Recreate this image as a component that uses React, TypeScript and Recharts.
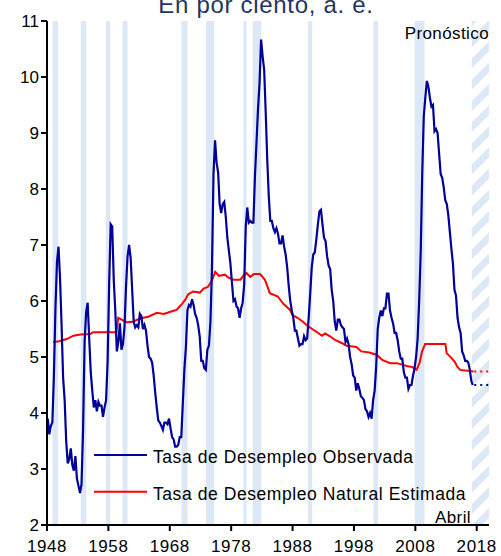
import { LineChart, Line, XAxis, YAxis, ReferenceArea } from "recharts";

const FONT = '"Liberation Sans", Arial, sans-serif';
const BLUE = "#000099";
const RED = "#ff0000";
const BAND = "#dce8f5";

// Observed unemployment rate, quarterly averages starting 1948 Q1
const observedStartYear = 1948;
const observedQuarterly = [
  3.9, 3.62, 3.77, 3.83, // 1948
  4.67, 5.87, 6.7, 6.97, // 1949
  6.4, 5.57, 4.63, 4.23, // 1950
  3.5, 3.1, 3.17, 3.37, // 1951
  3.07, 2.97, 3.23, 2.83, // 1952
  2.7, 2.57, 2.73, 3.7, // 1953
  5.27, 5.8, 5.97, 5.33, // 1954
  4.73, 4.4, 4.1, 4.23, // 1955
  4.03, 4.2, 4.13, 4.13, // 1956
  3.93, 4.1, 4.23, 4.93, // 1957
  6.3, 7.37, 7.33, 6.37, // 1958
  5.83, 5.1, 5.27, 5.6, // 1959
  5.13, 5.23, 5.53, 6.27, // 1960
  6.8, 7.0, 6.77, 6.2, // 1961
  5.63, 5.53, 5.57, 5.53, // 1962
  5.77, 5.73, 5.5, 5.57, // 1963
  5.47, 5.2, 5.0, 4.97, // 1964
  4.9, 4.67, 4.37, 4.1, // 1965
  3.87, 3.83, 3.77, 3.7, // 1966
  3.83, 3.83, 3.8, 3.9, // 1967
  3.73, 3.57, 3.53, 3.4, // 1968
  3.4, 3.43, 3.57, 3.57, // 1969
  4.17, 4.77, 5.17, 5.83, // 1970
  5.93, 5.9, 6.03, 5.93, // 1971
  5.77, 5.7, 5.57, 5.37, // 1972
  4.93, 4.93, 4.8, 4.77, // 1973
  5.13, 5.2, 5.63, 6.6, // 1974
  8.27, 8.87, 8.47, 8.3, // 1975
  7.73, 7.57, 7.73, 7.77, // 1976
  7.5, 7.13, 6.9, 6.67, // 1977
  6.33, 6.0, 6.03, 5.9, // 1978
  5.87, 5.7, 5.87, 5.97, // 1979
  6.3, 7.33, 7.67, 7.4, // 1980
  7.43, 7.4, 7.4, 8.23, // 1981
  8.83, 9.43, 9.9, 10.67, // 1982
  10.37, 10.13, 9.37, 8.53, // 1983
  7.87, 7.43, 7.43, 7.3, // 1984
  7.23, 7.3, 7.2, 7.03, // 1985
  7.03, 7.17, 6.97, 6.83, // 1986
  6.6, 6.27, 6.0, 5.83, // 1987
  5.7, 5.47, 5.47, 5.33, // 1988
  5.2, 5.23, 5.23, 5.37, // 1989
  5.3, 5.33, 5.7, 6.13, // 1990
  6.6, 6.83, 6.87, 7.1, // 1991
  7.37, 7.6, 7.63, 7.37, // 1992
  7.13, 7.07, 6.8, 6.63, // 1993
  6.57, 6.2, 6.0, 5.63, // 1994
  5.47, 5.67, 5.67, 5.57, // 1995
  5.53, 5.5, 5.27, 5.33, // 1996
  5.23, 5.0, 4.87, 4.67, // 1997
  4.63, 4.4, 4.53, 4.43, // 1998
  4.3, 4.27, 4.23, 4.07, // 1999
  4.03, 3.93, 4.0, 3.9, // 2000
  4.23, 4.4, 4.83, 5.5, // 2001
  5.7, 5.83, 5.73, 5.87, // 2002
  5.87, 6.13, 6.13, 5.83, // 2003
  5.7, 5.6, 5.43, 5.43, // 2004
  5.3, 5.1, 4.97, 4.97, // 2005
  4.73, 4.63, 4.63, 4.43, // 2006
  4.5, 4.5, 4.67, 4.8, // 2007
  5.0, 5.33, 6.0, 6.87, // 2008
  8.27, 9.3, 9.63, 9.93, // 2009
  9.83, 9.63, 9.47, 9.5, // 2010
  9.03, 9.07, 9.0, 8.63, // 2011
  8.27, 8.2, 8.03, 7.8, // 2012
  7.73, 7.53, 7.23, 6.93, // 2013
  6.67, 6.2, 6.1, 5.7, // 2014
  5.53, 5.43, 5.1, 5.03, // 2015
  4.93, 4.93, 4.9, 4.77, // 2016
  4.57, // 2017 Q1
];
// April 2017, last observation
const observedTailYears = [2017.35];
const observedTailValues = [4.5];

// Estimated natural rate
const naturalYears = [
  1949.0, 1950.0, 1951.2, 1952.3, 1953.5, 1955.0, 1955.5, 1959.3, 1959.6, 1960.3,
  1961.0, 1962.0, 1962.8, 1963.7, 1964.5, 1965.9, 1967.0, 1968.5, 1969.1, 1970.0,
  1970.5, 1971.0, 1971.8, 1972.9, 1973.5, 1974.2, 1974.8, 1975.4, 1976.0, 1977.0,
  1977.5, 1978.3, 1979.5, 1980.0, 1980.5, 1981.1, 1981.7, 1982.7, 1983.5, 1984.3,
  1985.6, 1986.5, 1987.6, 1988.0, 1988.8, 1989.7, 1990.5, 1991.2, 1991.9, 1992.8,
  1993.3, 1994.1, 1995.0, 1996.0, 1996.8, 1998.4, 1999.2, 2000.5, 2001.7, 2002.6,
  2003.9, 2005.0, 2006.6, 2007.5, 2008.2, 2008.7, 2009.1, 2009.6, 2012.9, 2013.1,
  2013.9, 2014.5, 2014.8, 2015.3, 2017.5,
];
const naturalValues = [
  5.27, 5.28, 5.32, 5.38, 5.4, 5.41, 5.44, 5.44, 5.7, 5.66,
  5.62, 5.63, 5.67, 5.7, 5.72, 5.79, 5.77, 5.82, 5.84, 5.95,
  6.02, 6.12, 6.17, 6.15, 6.22, 6.25, 6.35, 6.52, 6.45, 6.47,
  6.42, 6.38, 6.38, 6.45, 6.5, 6.43, 6.48, 6.48, 6.38, 6.14,
  6.08, 5.95, 5.84, 5.75, 5.7, 5.63, 5.55, 5.5, 5.45, 5.38,
  5.42, 5.37, 5.3, 5.25, 5.2, 5.18, 5.1, 5.08, 5.04, 4.95,
  4.89, 4.89, 4.84, 4.82, 4.77, 4.9, 5.1, 5.23, 5.23, 5.07,
  4.98, 4.9, 4.83, 4.77, 4.74,
];

// Forecast (dotted)
const forecastYears = [2017.6, 2020];
const forecastObserved = [4.5, 4.5];
const forecastNatural = [4.74, 4.74];

// Recessions (shaded)
const recessionStarts = [1948.9, 1953.5, 1957.6, 1960.3, 1969.9, 1973.9, 1980.0, 1981.5, 1990.5, 2001.2, 2007.9];
const recessionEnds = [1949.8, 1954.4, 1958.3, 1961.1, 1970.9, 1975.2, 1980.5, 1982.9, 1991.2, 2001.9, 2009.5];
const forecastStart = 2017.2;

const xTicks = [1948, 1958, 1968, 1978, 1988, 1998, 2008, 2018];
const yTicks = [2, 3, 4, 5, 6, 7, 8, 9, 10, 11];

const observedData = [
  ...observedQuarterly.map((v, i) => ({ t: observedStartYear + i / 4 + 0.125, v })),
  ...observedTailYears.map((t, i) => ({ t, v: observedTailValues[i] })),
];
const naturalData = naturalYears.map((t, i) => ({ t, v: naturalValues[i] }));
const forecastObsData = forecastYears.map((t, i) => ({ t, v: forecastObserved[i] }));
const forecastNatData = forecastYears.map((t, i) => ({ t, v: forecastNatural[i] }));

export default function App() {
  return (
    <div style={{ position: "absolute", left: 0, top: 0, width: 501, height: 556 }}>
      <LineChart
        width={501}
        height={556}
        margin={{ top: 21, right: 12, bottom: 0, left: 0 }}
        style={{ fontFamily: FONT }}
      >
        <defs>
          <pattern id="hatch" width="15" height="15" patternUnits="userSpaceOnUse" patternTransform="rotate(45)">
            <rect x="0" y="0" width="7" height="15" fill={BAND} />
          </pattern>
        </defs>
        <XAxis
          dataKey="t"
          type="number"
          domain={[1948, 2020]}
          allowDataOverflow
          ticks={xTicks}
          height={31}
          tickSize={6}
          tickMargin={9}
          axisLine={{ stroke: "#000", strokeWidth: 2 }}
          tickLine={{ stroke: "#000", strokeWidth: 2 }}
          tick={{ fontSize: 17, fill: "#000", letterSpacing: 0.6 }}
        />
        <YAxis
          type="number"
          domain={[2, 11]}
          ticks={yTicks}
          width={47}
          tickSize={6}
          tickMargin={2}
          axisLine={{ stroke: "#000", strokeWidth: 2 }}
          tickLine={{ stroke: "#000", strokeWidth: 2 }}
          tick={{ fontSize: 17, fill: "#000" }}
        />
        {recessionStarts.map((s, i) => (
          <ReferenceArea key={s} x1={s} x2={recessionEnds[i]} fill={BAND} fillOpacity={1} stroke="none" />
        ))}
        <ReferenceArea x1={forecastStart} x2={2020} fill="url(#hatch)" fillOpacity={1} stroke="none" />
        <Line data={naturalData} dataKey="v" type="linear" stroke={RED} strokeWidth={2} dot={false} isAnimationActive={false} />
        <Line data={observedData} dataKey="v" type="linear" stroke={BLUE} strokeWidth={2.2} dot={false} isAnimationActive={false} />
        <Line data={forecastNatData} dataKey="v" type="linear" stroke={RED} strokeWidth={2} strokeDasharray="2 4" dot={false} isAnimationActive={false} />
        <Line data={forecastObsData} dataKey="v" type="linear" stroke={BLUE} strokeWidth={2} strokeDasharray="2 4" dot={false} isAnimationActive={false} />
      </LineChart>
      <svg
        width={501}
        height={556}
        style={{ position: "absolute", left: 0, top: 0, pointerEvents: "none", fontFamily: FONT }}
      >
        <text x={266} y={12.5} textAnchor="middle" fontSize={24} letterSpacing={0.7} fill="#1f3560">
          En por ciento, a. e.
        </text>
        <text x={489} y={39} textAnchor="end" fontSize={17} letterSpacing={0.4} fill="#000">
          Pronóstico
        </text>
        <text x={471} y={523} textAnchor="end" fontSize={17} letterSpacing={0.4} fill="#000">
          Abril
        </text>
        <line x1={94} x2={147} y1={455} y2={455} stroke={BLUE} strokeWidth={2} />
        <text x={153} y={462.5} fontSize={17.5} letterSpacing={0.57} fill="#000">
          Tasa de Desempleo Observada
        </text>
        <line x1={94} x2={147} y1={491.7} y2={491.7} stroke={RED} strokeWidth={2} />
        <text x={153} y={499.5} fontSize={17.5} letterSpacing={0.57} fill="#000">
          Tasa de Desempleo Natural Estimada
        </text>
      </svg>
    </div>
  );
}
